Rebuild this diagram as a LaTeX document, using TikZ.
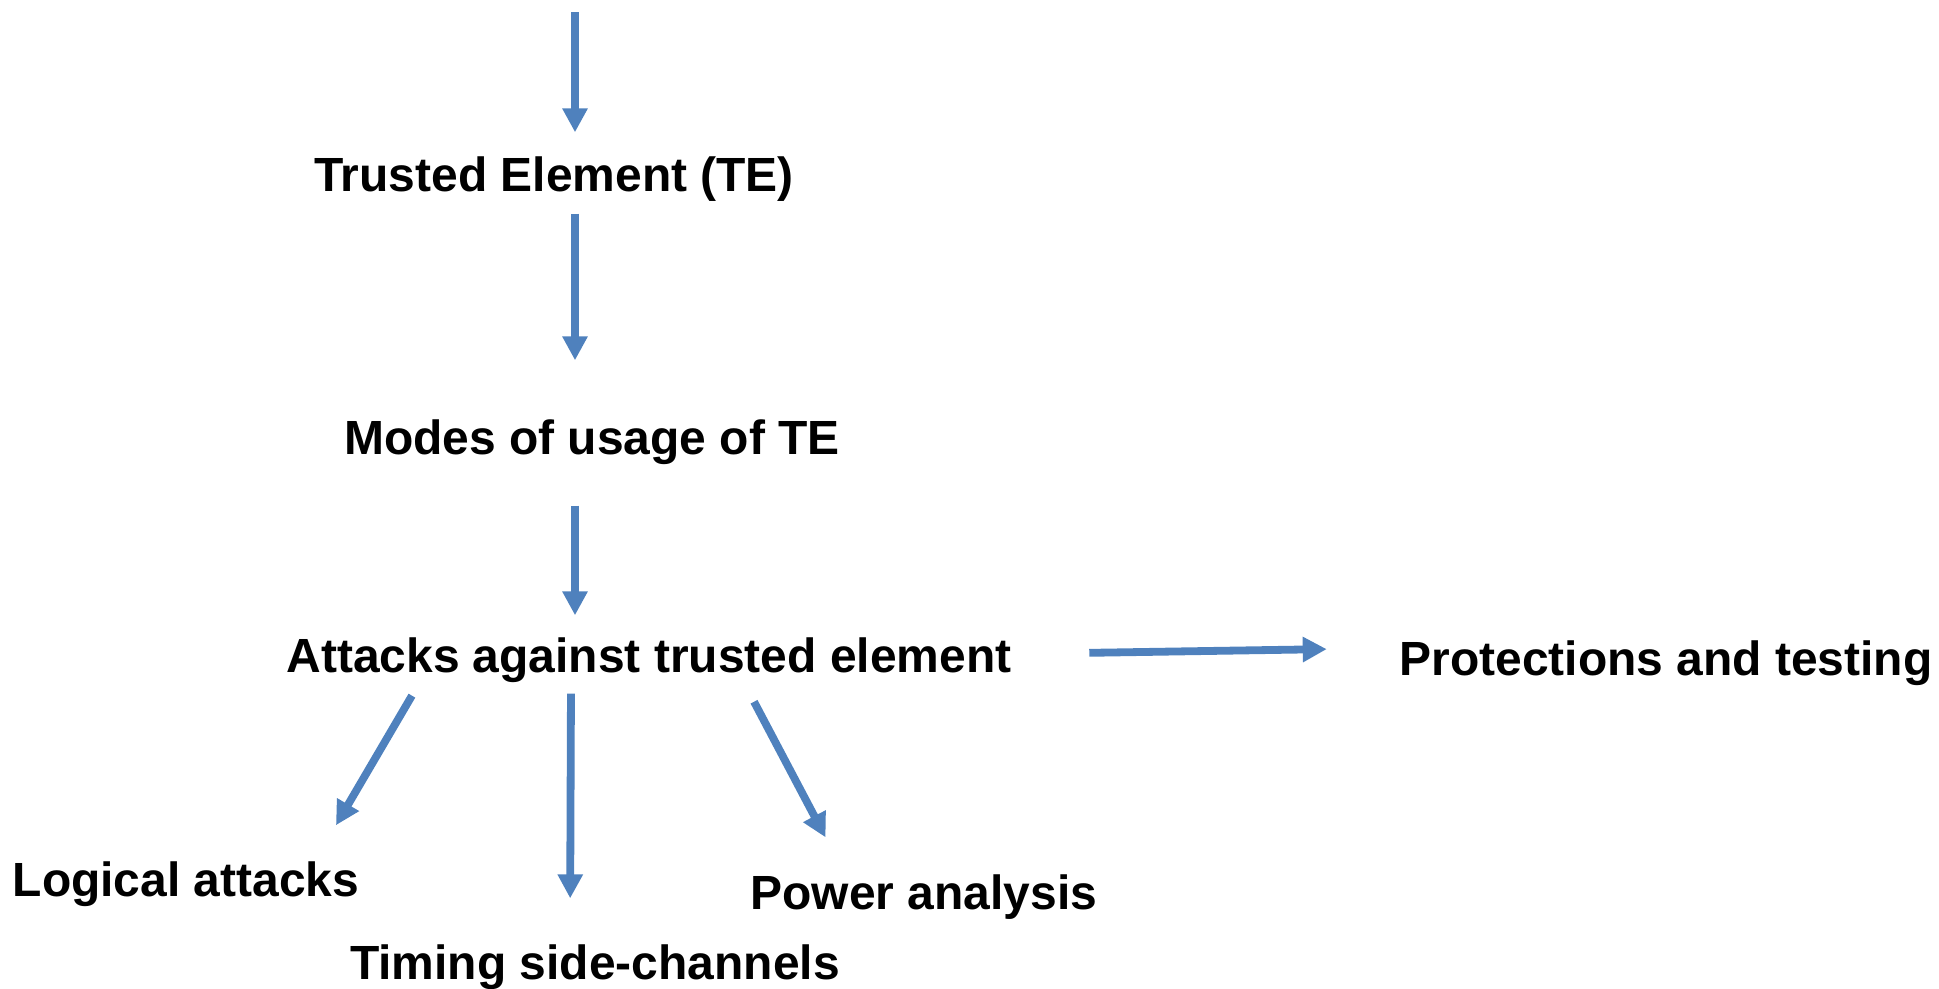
\documentclass[tikz,border=0pt]{standalone}
\usepackage{fontspec}
\setmainfont{Liberation Sans}
\usepackage{tikz}
\usetikzlibrary{arrows.meta}
\definecolor{teblue}{RGB}{79,129,189}
\tikzset{
  telabel/.style={
    font=\bfseries\fontsize{13.65}{16}\selectfont,
    inner sep=0pt,
    text height=3.6mm,
    text depth=1mm,
    anchor=base
  },
  teflow/.style={-{Triangle[length=2.4mm,width=2.4mm]},line width=0.78mm,teblue}
}
\begin{document}
\begin{tikzpicture}[x=0.1mm,y=-0.1mm]
  \useasboundingbox (0,0) rectangle (1939,988);
  \coordinate (spine) at (575,0);
  \coordinate (entry) at (575,12);

  \node[telabel] (te) at (554,191) {Trusted Element (TE)};
  \node[telabel] (modes) at (592,454) {Modes of usage of TE};
  \node[telabel] (attacks) at (649,672) {Attacks against trusted element};
  \node[telabel] (prot) at (1666,675) {Protections and testing};
  \node[telabel] (logical) at (186,896) {Logical attacks};
  \node[telabel] (timing) at (595,979) {Timing side-channels};
  \node[telabel] (power) at (924,909) {Power analysis};

  \draw[teflow,shorten >=2.2mm] (entry) -- (te.north -| spine);
  \draw[teflow,shorten <=1.2mm,shorten >=5.7mm] (te.south -| spine) -- (modes.north -| spine);
  \draw[teflow,shorten <=4.1mm,shorten >=2mm] (modes.south -| spine) -- (attacks.north -| spine);
  \draw[teflow,shorten <=7.7mm,shorten >=7.2mm] ([yshift=0.5mm]attacks.east) -- ([yshift=1.4mm]prot.west);

  % branches below the attacks
  \draw[teflow,shorten <=1.5mm,shorten >=3.95mm] ([xshift=-22.95mm]attacks.south) -- ([xshift=13mm]logical.north);
  \draw[teflow,shorten <=1.1mm,shorten >=4.4mm] ([xshift=-7.8mm]attacks.south) -- ([xshift=-2.5mm]timing.north);
  \draw[teflow,shorten <=2.15mm,shorten >=3.95mm] ([xshift=9.5mm]attacks.south) -- ([xshift=-8mm]power.north);
\end{tikzpicture}
\end{document}
